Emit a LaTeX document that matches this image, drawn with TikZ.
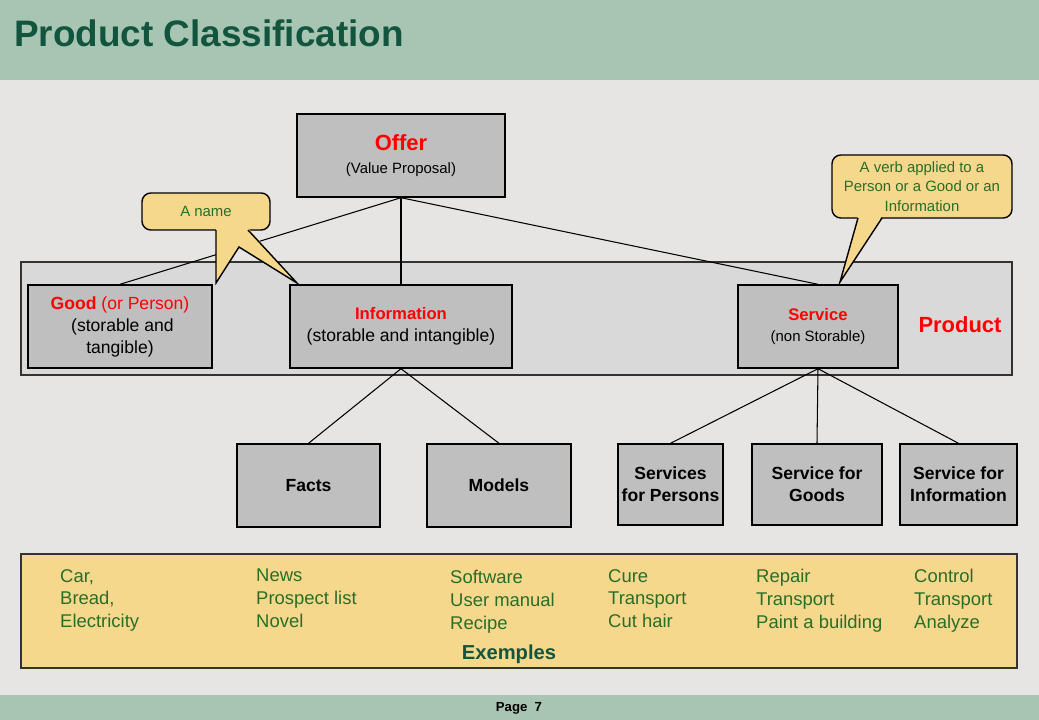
\documentclass[tikz,border=0pt]{standalone}
\usepackage{fontspec}
\setmainfont{Liberation Sans}
\usetikzlibrary{backgrounds}
\definecolor{band}{RGB}{168,196,178}
\definecolor{slide}{RGB}{230,229,227}
\definecolor{title}{RGB}{18,85,62}
\definecolor{boxgray}{RGB}{191,191,191}
\definecolor{prodgray}{RGB}{217,217,217}
\definecolor{note}{RGB}{246,216,140}
\definecolor{notetext}{RGB}{40,110,40}
\tikzstyle{block}=[rectangle, fill=boxgray, draw=black, thick, align=center, inner sep=0pt, font=\bfseries\fontsize{10}{12.5}\selectfont]
\tikzstyle{callout}=[rectangle, rounded corners=5pt, fill=note, draw=black, thick, align=center, inner sep=0pt, text=notetext, font=\fontsize{8.5}{11}\selectfont]
\tikzstyle{link}=[-, draw=black, semithick]
\tikzstyle{example}=[anchor=north west, align=left, text=notetext, font=\fontsize{10.5}{13}\selectfont]
\begin{document}
\begin{tikzpicture}[x=0.02cm,y=-0.02cm]
            \useasboundingbox (0,0) rectangle (1039,720);
            % background
            \fill [slide] (0,0) rectangle (1039,720);
            \fill [band] (0,0) rectangle (1039,80);
            \fill [band] (0,695) rectangle (1039,720);
            \node [anchor=west, text=title, font=\bfseries\fontsize{21}{25}\selectfont] (T) at (8,33) {Product Classification};
            \node [font=\bfseries\fontsize{7.5}{9}\selectfont] (page) at (519,708) {Page\ \ 7};

            \draw [fill=prodgray, draw=black!80, thick] (21,262) rectangle (1012,375);
            \node [text=red, font=\bfseries\fontsize{12.5}{15}\selectfont] (P) at (960,325) {Product};

            \node [block, minimum width=208*0.02cm, minimum height=83*0.02cm] (offer) at (401,155.5) {\textcolor{red}{\fontsize{12.5}{15}\selectfont Offer}\\[1pt]{\mdseries\fontsize{8.5}{11}\selectfont (Value Proposal)}};
            \node [block, minimum width=184*0.02cm, minimum height=83*0.02cm] (good) at (120,326.5) {\textcolor{red}{Good \mdseries(or Person)}\\{\mdseries\ (storable and}\\{\mdseries tangible)}};
            \node [block, minimum width=222*0.02cm, minimum height=83*0.02cm] (info) at (401,326.5) {\textcolor{red}{\fontsize{9.5}{12}\selectfont Information}\\{\mdseries (storable and intangible)}};
            \node [block, minimum width=160*0.02cm, minimum height=83*0.02cm] (serv) at (818,326.5) {\textcolor{red}{\fontsize{9.5}{12}\selectfont Service}\\{\mdseries\fontsize{8.5}{11}\selectfont (non Storable)}};

            \node [block, minimum width=143*0.02cm, minimum height=83*0.02cm] (facts) at (308.5,485.5) {Facts};
            \node [block, minimum width=144*0.02cm, minimum height=83*0.02cm] (models) at (499,485.5) {Models};
            \node [block, minimum width=105*0.02cm, minimum height=81*0.02cm] (persons) at (670.5,484.5) {Services\\for Persons};
            \node [block, minimum width=130*0.02cm, minimum height=81*0.02cm] (goods) at (817,484.5) {Service for\\Goods};
            \node [block, minimum width=117*0.02cm, minimum height=81*0.02cm] (infos) at (958.5,484.5) {Service for\\Information};

            \draw [style=link] (offer.south) to (good.north);
            \draw [style=link] (offer.south) to (info.north);
            \draw [style=link] (offer.south) to (serv.north);
            \draw [style=link] (info.south) to (facts.north);
            \draw [style=link] (info.south) to (models.north);
            \draw [style=link] (serv.south) to (persons.north);
            \draw [style=link] (serv.south) to (goods.north);
            \draw [style=link] (serv.south) to (infos.north);

            % callouts
            \node [callout, minimum width=128*0.02cm, minimum height=37*0.02cm] (name) at (206,211.5) {A name};
            \fill [note] (216,228) -- (216,283) -- (239,247) -- (297,283) -- (248,228) -- cycle;
            \draw [thick, line join=miter] (216,230) -- (216,283) -- (239,247) -- (297,283) -- (248,230);
            \node [callout, minimum width=180*0.02cm, minimum height=63*0.02cm] (verb) at (922,186.5) {A verb applied to a\\Person or a Good or an\\Information};
            \fill [note] (858,216) -- (840,282) -- (882,216) -- cycle;
            \draw [thick] (858,218) -- (840,282) -- (882,218);

            % examples
            \draw [fill=note, draw=black!80, thick] (21,554) rectangle (1017,668);
            \node [example] (ex1) at (54,563) {Car,\\Bread,\\Electricity};
            \node [example] (ex2) at (250,563) {News\\Prospect list\\Novel};
            \node [example] (ex3) at (444,564) {Software\\User manual\\Recipe};
            \node [example] (ex4) at (602,563) {Cure\\Transport\\Cut hair};
            \node [example] (ex5) at (750,563) {Repair\\Transport\\Paint a building};
            \node [example] (ex6) at (908,563) {Control\\Transport\\Analyze};
            \node [text=title, font=\bfseries\fontsize{11.5}{14}\selectfont] (ex) at (509,654) {Exemples};
\end{tikzpicture}
\end{document}
